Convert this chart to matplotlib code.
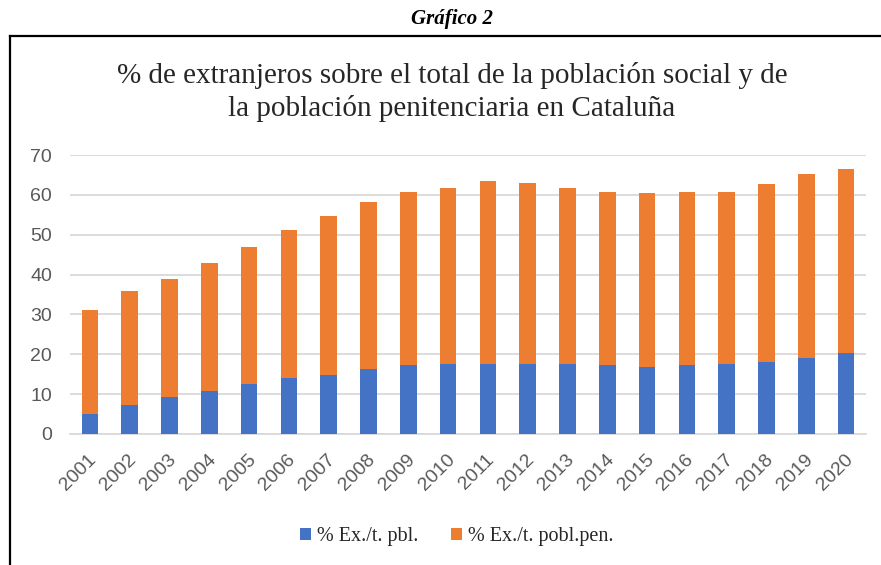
import matplotlib
matplotlib.use("Agg")
import matplotlib.pyplot as plt
import matplotlib.transforms as mtransforms
import numpy as np
from matplotlib.lines import Line2D

years = [str(y) for y in range(2001, 2021)]
pct_ex_pbl = [5.0, 7.2, 9.2, 10.7, 12.5, 14.0, 14.8, 16.3, 17.2, 17.5,
              17.5, 17.5, 17.5, 17.2, 16.9, 17.2, 17.5, 18.1, 19.0, 20.2]
pct_ex_pen_top = [31.1, 35.9, 38.8, 43.0, 46.8, 51.3, 54.8, 58.1, 60.8, 61.6,
                  63.5, 62.9, 61.6, 60.8, 60.5, 60.8, 60.8, 62.6, 65.3, 66.4]
pct_ex_pen = [t - b for t, b in zip(pct_ex_pen_top, pct_ex_pbl)]
yticks = [0, 10, 20, 30, 40, 50, 60, 70]

blue = "#4472C4"
orange = "#ED7D31"
gray_txt = "#595959"
grid_c = "#D9D9D9"

fig = plt.figure(figsize=(8.81, 5.65), dpi=100)
fig.patch.set_facecolor("white")

# outer frame (left + top only visible)
fig.add_artist(Line2D([10/881, 10/881], [0, 1 - 36/565], transform=fig.transFigure,
                      color="black", lw=1.6))
fig.add_artist(Line2D([10/881, 1.0], [1 - 36/565, 1 - 36/565], transform=fig.transFigure,
                      color="black", lw=1.6))

fig.text(452/881, 1 - 19/565, "Gráfico 2", ha="center", va="center",
         fontsize=15, fontweight="bold", fontstyle="italic", family="Liberation Serif")

fig.text(452/881, 1 - 92/565,
         "% de extranjeros sobre el total de la población social y de\nla población penitenciaria en Cataluña",
         ha="center", va="center", fontsize=21, family="Liberation Serif",
         color="#262626", linespacing=1.27)

ax = fig.add_axes([70/881, 1 - 434/565, (866 - 70)/881, (434 - 155)/565])
x = np.arange(len(years))
w = 0.415
ax.bar(x, pct_ex_pbl, width=w, color=blue, label="% Ex./t. pbl.", zorder=3)
ax.bar(x, pct_ex_pen, width=w, bottom=pct_ex_pbl, color=orange,
       label="% Ex./t. pobl.pen.", zorder=3)

ax.set_xlim(-0.5, len(years) - 0.5)
ax.set_ylim(0, 70)
ax.set_yticks(yticks)
ax.set_yticklabels([str(v) for v in yticks], fontsize=14, color=gray_txt,
                   family="Liberation Sans")
ax.set_xticks(x)
ax.set_xticklabels(years, rotation=45, ha="right", rotation_mode="anchor",
                   fontsize=14, color=gray_txt, family="Liberation Sans")
ax.tick_params(axis="both", length=0)
ax.tick_params(axis="y", pad=13)
ax.tick_params(axis="x", pad=12)
offset = mtransforms.ScaledTranslation(-2/100, 0, fig.dpi_scale_trans)
for lbl in ax.get_xticklabels():
    lbl.set_transform(lbl.get_transform() + offset)
ax.grid(axis="y", color=grid_c, lw=1.3, zorder=0)
for s in ["top", "right", "left"]:
    ax.spines[s].set_visible(False)
ax.spines["bottom"].set_color(grid_c)
ax.spines["bottom"].set_linewidth(1.3)

leg = fig.legend(loc="center", bbox_to_anchor=(457/881, 1 - 537/565), ncol=2,
                 frameon=False, prop={"family": "Liberation Serif", "size": 14.5},
                 handlelength=0.55, handleheight=0.55, handletextpad=0.3,
                 columnspacing=1.6)
for t in leg.get_texts():
    t.set_color("#262626")

fig.savefig("out.png", dpi=100)
